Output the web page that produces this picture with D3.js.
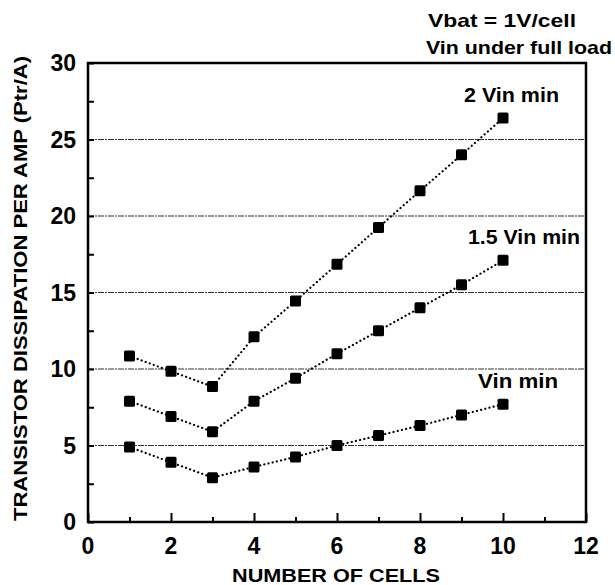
<!DOCTYPE html>
<html>
<head>
<meta charset="utf-8">
<script src="https://cdn.jsdelivr.net/npm/d3@7"></script>
<style>
  body { margin: 0; background: #fff; }
  text { font-family: "Liberation Sans", Arial, sans-serif; font-weight: bold; fill: #000; }
</style>
</head>
<body>
<div id="chart"></div>
<script>
const cells = [1, 2, 3, 4, 5, 6, 7, 8, 9, 10];
const vinMin = [4.9, 3.9, 2.9, 3.6, 4.25, 5.0, 5.65, 6.3, 7.0, 7.7];
const vin15 = [7.9, 6.9, 5.9, 7.9, 9.4, 11.0, 12.5, 14.0, 15.5, 17.1];
const vin2 = [10.85, 9.85, 8.85, 12.1, 14.45, 16.85, 19.25, 21.65, 24.0, 26.4];
const seriesNames = ["Vin min", "1.5 Vin min", "2 Vin min"];
const xTicks = [0, 2, 4, 6, 8, 10, 12];
const yTicks = [0, 5, 10, 15, 20, 25, 30];

const width = 615, height = 585;
const margin = { top: 63, right: 29, bottom: 63, left: 88 };

const svg = d3.select("#chart").append("svg")
  .attr("width", width).attr("height", height);

const x = d3.scaleLinear().domain([0, 12]).range([margin.left, width - margin.right]);
const y = d3.scaleLinear().domain([0, 30]).range([height - margin.bottom, margin.top]);

// gridlines
svg.append("g").selectAll("line")
  .data(yTicks.filter(d => d > 0 && d < 30))
  .enter().append("line")
  .attr("x1", x(0)).attr("x2", x(12))
  .attr("y1", d => y(d)).attr("y2", d => y(d))
  .attr("stroke", "#333").attr("stroke-width", 1)
  .attr("stroke-dasharray", "6,1,2,1");

// inward ticks
const yAxis = d3.axisRight(y).tickValues(d3.range(0, 30.1, 2.5)).tickSize(6).tickFormat("");
const xAxis = d3.axisTop(x).tickValues(d3.range(0, 12.1, 1)).tickSize(6).tickFormat("");
svg.append("g").attr("transform", `translate(${x(0)},0)`).call(yAxis)
  .call(g => g.select(".domain").remove())
  .selectAll("line").attr("stroke-width", 2);
svg.append("g").attr("transform", `translate(0,${y(0)})`).call(xAxis)
  .call(g => g.select(".domain").remove())
  .selectAll("line").attr("stroke-width", 2)
  .attr("y2", d => (d % 2 === 0 ? -9 : -5));

// frame
svg.append("rect")
  .attr("x", x(0)).attr("y", y(30))
  .attr("width", x(12) - x(0)).attr("height", y(0) - y(30))
  .attr("fill", "none").attr("stroke", "#000").attr("stroke-width", 2.5);

// tick labels
svg.append("g").selectAll("text").data(xTicks).enter().append("text")
  .attr("x", d => x(d)).attr("y", y(0) + 32)
  .attr("text-anchor", "middle").attr("font-size", 23)
  .text(d => d);
svg.append("g").selectAll("text").data(yTicks).enter().append("text")
  .attr("x", x(0) - 12).attr("y", d => y(d) + 8)
  .attr("text-anchor", "end").attr("font-size", 23)
  .text(d => d);

// series
const line = d3.line().x((d, i) => x(cells[i])).y(d => y(d));
[vinMin, vin15, vin2].forEach(vals => {
  svg.append("path").datum(vals)
    .attr("d", line).attr("fill", "none")
    .attr("stroke", "#000").attr("stroke-width", 2.2)
    .attr("stroke-linecap", "round")
    .attr("stroke-dasharray", "0.1,4.2");
  svg.append("g").selectAll("rect").data(vals).enter().append("rect")
    .attr("x", (d, i) => x(cells[i]) - 5.5).attr("y", d => y(d) - 5.5)
    .attr("width", 11).attr("height", 11).attr("rx", 1.5)
    .attr("fill", "#000");
});

// series labels
const labelPos = [[478, 388, 80], [468, 244, 112], [464, 102, 95]];
seriesNames.forEach((s, i) => {
  svg.append("text").attr("x", labelPos[i][0]).attr("y", labelPos[i][1])
    .attr("font-size", 20)
    .attr("textLength", labelPos[i][2]).attr("lengthAdjust", "spacingAndGlyphs")
    .text(s);
});

// notes
svg.append("text").attr("x", 428).attr("y", 27)
  .attr("font-size", 19).attr("textLength", 148).attr("lengthAdjust", "spacingAndGlyphs")
  .text("Vbat = 1V/cell");
svg.append("text").attr("x", 426).attr("y", 54)
  .attr("font-size", 19).attr("textLength", 186).attr("lengthAdjust", "spacingAndGlyphs")
  .text("Vin under full load");

// axis titles
svg.append("text").attr("x", 336).attr("y", 582).attr("text-anchor", "middle")
  .attr("font-size", 18).attr("textLength", 208).attr("lengthAdjust", "spacingAndGlyphs")
  .text("NUMBER OF CELLS");
svg.append("text")
  .attr("transform", `translate(27,${(522 + 55) / 2}) rotate(-90)`)
  .attr("text-anchor", "middle").attr("font-size", 18)
  .attr("textLength", 465).attr("lengthAdjust", "spacingAndGlyphs")
  .text("TRANSISTOR DISSIPATION PER AMP (Ptr/A)");
</script>
</body>
</html>
